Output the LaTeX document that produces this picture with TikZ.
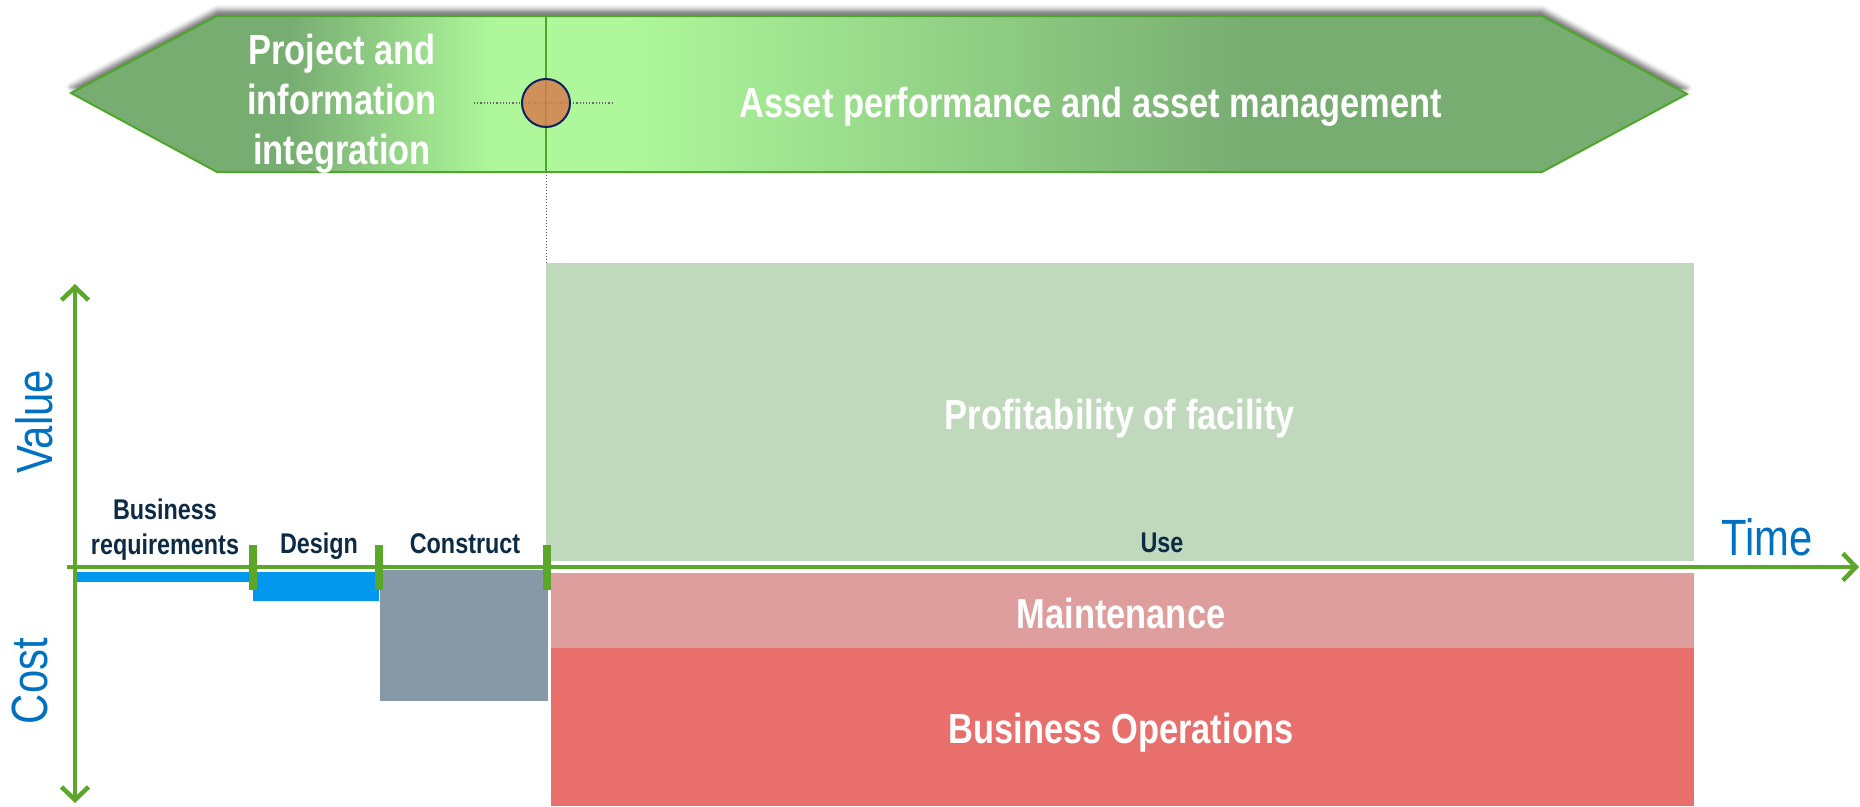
\documentclass[tikz,border=0pt]{standalone}
\usepackage{fontspec}
\setmainfont{Liberation Sans}[FakeStretch=0.82]
\usetikzlibrary{arrows.meta,shadows.blur}
\definecolor{bdark}{HTML}{78AD72}
\definecolor{blight}{HTML}{AEF89B}
\definecolor{bedge}{HTML}{4EA72A}
\definecolor{axgreen}{HTML}{5BA72A}
\definecolor{navytxt}{HTML}{0D2B45}
\definecolor{axblue}{HTML}{0070C0}
\definecolor{barblue}{HTML}{0097EC}
\definecolor{cgray}{HTML}{8799A6}
\definecolor{profit}{HTML}{C0D9BC}
\definecolor{maint}{HTML}{DE9E9D}
\definecolor{busop}{HTML}{E86F6B}
\definecolor{dotorange}{HTML}{D5804E}
\definecolor{dotedge}{HTML}{0F2060}
\tikzset{axbarb/.tip={Straight Barb[length=13pt,width=27pt]}}
\begin{document}
\begin{tikzpicture}[x=1pt,y=-1pt,
  bigtxt/.style={text=white, font=\fontsize{42}{50}\selectfont\bfseries, inner sep=0pt, align=center},
  phasetxt/.style={text=navytxt, font=\fontsize{28.5}{35}\selectfont\bfseries, inner sep=0pt, align=center},
  axistxt/.style={text=axblue, font=\fontsize{51}{60}\selectfont, inner sep=0pt},
  axisline/.style={draw=axgreen, line width=4.5pt},
  tickmark/.style={draw=axgreen, line width=8pt},
  guide/.style={draw=black!60, line width=1.2pt, dotted}]
\useasboundingbox (0,0) rectangle (1860,806);

% banner
\def\bannerpath{(71,93) -- (217,16) -- (1542,16) -- (1687,94) -- (1542,172) -- (217,172) -- cycle}
\fill[white, blur shadow={shadow xshift=0pt, shadow yshift=6pt, shadow blur radius=5pt, shadow opacity=55}] \bannerpath;
\begin{scope}
  \clip \bannerpath;
  \fill[bdark] (60,10) rectangle (291,180);
  \shade[left color=bdark, right color=blight] (290,10) rectangle (496,180);
  \fill[blight] (495,10) rectangle (626,180);
  \shade[left color=blight, right color=bdark] (625,10) rectangle (1251,180);
  \fill[bdark] (1250,10) rectangle (1700,180);
\end{scope}
\draw[bedge, line width=2pt] \bannerpath;
\coordinate (btop) at (546,16);
\coordinate (bbot) at (546,172);
\coordinate (gtop) at (546,263);
\coordinate (hl1) at (474,103);
\coordinate (hl2) at (613,103);
\draw[draw=bedge, line width=2.5pt] (btop) -- (bbot);
\draw[draw=black!65, line width=1pt, dotted] (bbot) -- (gtop);
\draw[guide] (hl1) -- (hl2);
\node[circle, minimum size=48pt, inner sep=0pt, fill=dotorange, fill opacity=0.85, draw=dotedge, line width=2pt] (hub) at (546,103) {};

\node[bigtxt, anchor=base] (pii) at (342,164) {Project and\\information\\integration};
\node[bigtxt, anchor=base] (apm) at (1091,117) {Asset performance and asset management};

% value / cost blocks
\fill[profit] (546,263) rectangle (1694,561);
\fill[maint] (551,573) rectangle (1694,648);
\fill[busop] (551,648) rectangle (1694,806);
\fill[barblue] (76,572) rectangle (252,582);
\fill[barblue] (253,572) rectangle (379,601);
\fill[cgray] (380,570) rectangle (548,701);

\node[bigtxt, anchor=base] (pof) at (1120,429) {Profitability of facility};
\node[bigtxt, anchor=base] (mnt) at (1121,628) {Maintenance};
\node[bigtxt, anchor=base] (bop) at (1121,743) {Business Operations};

% axes
\coordinate (vtop) at (75,284);
\coordinate (vbot) at (75,803);
\coordinate (hleft) at (67,567);
\coordinate (hright) at (1859,567);
\draw[axisline, axbarb-axbarb] (vtop) -- (vbot);
\draw[axisline, -axbarb] (hleft) -- (hright);

% phase ticks
\foreach \n/\x in {t1/253, t2/379, t3/547}{
  \coordinate (\n a) at (\x,545);
  \coordinate (\n b) at (\x,590);
  \draw[tickmark] (\n a) -- (\n b);
}

\node[phasetxt, anchor=base] (breq) at (165,554) {Business\\requirements};
\node[phasetxt, anchor=base] (des) at (319,553) {Design};
\node[phasetxt, anchor=base] (con) at (465,553) {Construct};
\node[phasetxt, anchor=base] (use) at (1162,552) {Use};

\node[axistxt, anchor=base] (time) at (1767,555) {Time};
\node[axistxt, rotate=90] (val) at (34,422) {Value};
\node[axistxt, rotate=90] (cst) at (30,681) {Cost};
\end{tikzpicture}
\end{document}
